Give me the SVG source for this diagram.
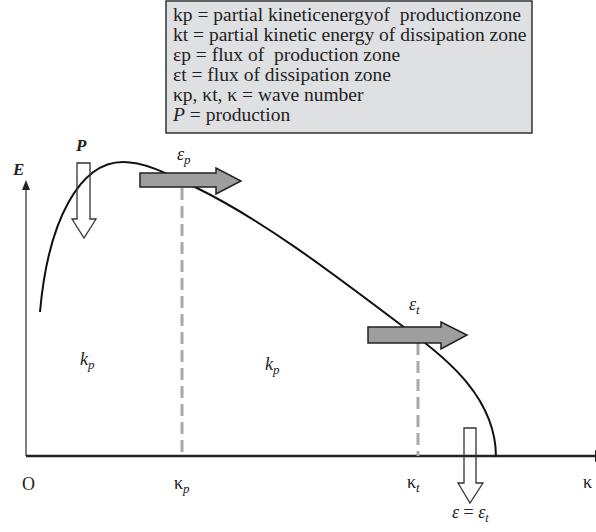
<svg xmlns="http://www.w3.org/2000/svg" width="596" height="532" viewBox="0 0 596 532">
<style>
text{font-family:"Liberation Serif","Times New Roman",serif;fill:#222}
.leg{font-size:19.5px;white-space:pre}
.lbl{font-size:18px}
.it{font-style:italic}
.bi{font-style:italic;font-weight:bold;font-size:17px}
.flux{fill:#9e9e9e;stroke:#222;stroke-width:1.5}
.hollow{fill:none;stroke:#333;stroke-width:1.3}
.dash{stroke:#aaa;stroke-width:3;stroke-dasharray:12 6;fill:none}
</style>
<rect width="596" height="532" fill="#fff"/>
<g id="legend">
<rect x="166" y="1" width="366" height="132" fill="#dfe0e1" stroke="#333" stroke-width="1.5"/>
<text class="leg" x="173" y="21">kp = partial kineticenergyof  productionzone</text>
<text class="leg" x="173" y="41">kt = partial kinetic energy of dissipation zone</text>
<text class="leg" x="173" y="61">εp = flux of  production zone</text>
<text class="leg" x="173" y="81">εt = flux of dissipation zone</text>
<text class="leg" x="173" y="101">κp, κt, κ = wave number</text>
<text class="leg" x="173" y="121"><tspan font-style="italic">P</tspan> = production</text>
</g>
<g id="connectors">
<line x1="26" y1="456" x2="26" y2="188" stroke="#555" stroke-width="1.5"/>
<polygon points="26,180 22,190 30,190" fill="#222"/>
<line x1="26" y1="456" x2="596" y2="456" stroke="#222" stroke-width="2.5"/>
<polygon points="595,450 605,456 595,462" fill="#222"/>
<path d="M40,312 C48,220 80,162 123,162 C148,162 175,178 197,188 C266,222 336,276 405,328 C450,360 496,400 496,457" fill="none" stroke="#111" stroke-width="2"/>
<line class="dash" x1="182" y1="188" x2="182" y2="456"/>
<line class="dash" x1="418" y1="343" x2="418" y2="456"/>
</g>
<g id="flux-p">
<polygon class="flux" points="140,173 216,173 216,168 241,181 216,194 216,187 140,187"/>
<text class="lbl it" x="177" y="160">ε<tspan dy="4" font-size="13">p</tspan></text>
</g>
<g id="flux-t">
<polygon class="flux" points="368,327 441,327 441,322 467,335 441,349 441,343 368,343"/>
<text class="lbl it" x="409" y="310">ε<tspan dy="4" font-size="13">t</tspan></text>
</g>
<g id="production">
<polygon class="hollow" points="77,163 90,163 90,219 96,219 84,238 72,219 77,219"/>
<text class="bi" x="76" y="151">P</text>
</g>
<g id="dissipation">
<polygon class="hollow" points="464,428 476,428 476,483 483,483 470,503 458,483 464,483"/>
<text class="lbl" x="452" y="518" font-size="16"><tspan font-style="italic">ε</tspan> = <tspan font-style="italic">ε</tspan><tspan dy="4" font-size="12" font-style="italic">t</tspan></text>
</g>
<g id="labels">
<text class="bi" x="13" y="175">E</text>
<text class="lbl it" x="80" y="365">k<tspan dy="4" font-size="13">p</tspan></text>
<text class="lbl it" x="265" y="370">k<tspan dy="4" font-size="13">p</tspan></text>
<text class="lbl" x="22" y="490">O</text>
<text class="lbl" x="174" y="489">κ<tspan dy="4" font-size="13" font-style="italic">p</tspan></text>
<text class="lbl" x="407" y="488">κ<tspan dy="4" font-size="13" font-style="italic">t</tspan></text>
<text class="lbl" x="583" y="488">κ</text>
</g>
</svg>
